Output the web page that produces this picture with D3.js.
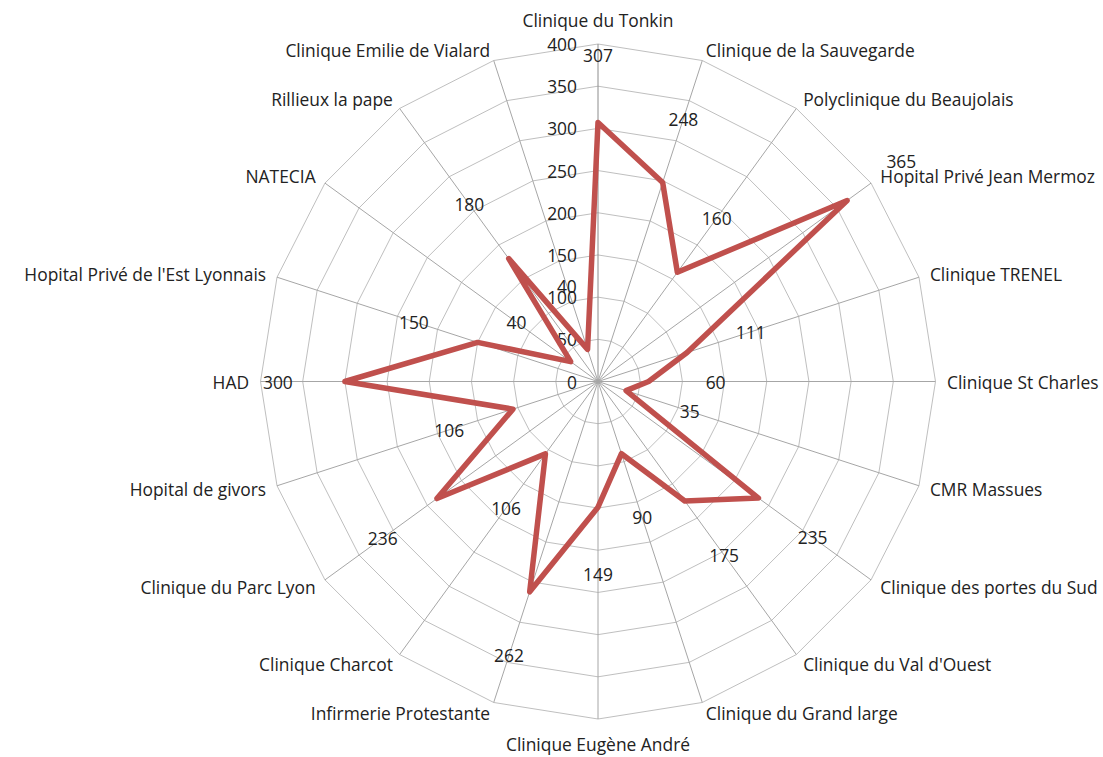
<!DOCTYPE html>
<html>
<head>
<meta charset="utf-8">
<script src="https://cdn.jsdelivr.net/npm/d3@7"></script>
<style>
  body { margin: 0; background: #fff; }
  svg text { font-family: "Open Sans", Lato, sans-serif; font-size: 17.4px; fill: #222; }
</style>
</head>
<body>
<div id="chart"></div>
<script>
// categories clockwise from the top
var categories = [
  "Clinique du Tonkin", "Clinique de la Sauvegarde", "Polyclinique du Beaujolais",
  "Hopital Privé Jean Mermoz", "Clinique TRENEL", "Clinique St Charles", "CMR Massues",
  "Clinique des portes du Sud", "Clinique du Val d'Ouest", "Clinique du Grand large",
  "Clinique Eugène André", "Infirmerie Protestante", "Clinique Charcot",
  "Clinique du Parc Lyon", "Hopital de givors", "HAD", "Hopital Privé de l'Est Lyonnais",
  "NATECIA", "Rillieux la pape", "Clinique Emilie de Vialard"
];
var values = [307, 248, 160, 365, 111, 60, 35, 235, 175, 90, 149, 262, 106, 236, 106, 300, 150, 40, 180, 40];
var ticks = [0, 50, 100, 150, 200, 250, 300, 350, 400];

var width = 1103, height = 757;
var cx = 598, cy = 381.5, R = 337.5;

var svg = d3.select("#chart").append("svg")
  .attr("width", width)
  .attr("height", height);

var r = d3.scaleLinear().domain([0, 400]).range([0, R]);
var angle = d3.scaleBand().domain(categories).range([0, 2 * Math.PI]).align(0).paddingInner(0).paddingOuter(0);

function pt(cat, rad) {
  var a = angle(cat);
  return [cx + rad * Math.sin(a), cy - rad * Math.cos(a)];
}

var g = svg.append("g");

// rings
g.selectAll("polygon.ring")
  .data(ticks.slice(1))
  .enter().append("polygon")
  .attr("class", "ring")
  .attr("points", function (t) {
    return categories.map(function (c) { return pt(c, r(t)).join(","); }).join(" ");
  })
  .attr("fill", "none")
  .attr("stroke", "#bfbfbf")
  .attr("stroke-width", 1);

// spokes
g.selectAll("line.spoke")
  .data(categories)
  .enter().append("line")
  .attr("class", "spoke")
  .attr("x1", cx).attr("y1", cy)
  .attr("x2", function (c) { return pt(c, R)[0]; })
  .attr("y2", function (c) { return pt(c, R)[1]; })
  .attr("stroke", function (c, i) { return i == 0 ? "#8c8c8c" : "#a6a6a6"; })
  .attr("stroke-width", 1);

// value axis labels
g.selectAll("text.tick")
  .data(ticks)
  .enter().append("text")
  .attr("class", "tick")
  .attr("x", cx - 21)
  .attr("y", function (t) { return cy - r(t); })
  .attr("text-anchor", "end")
  .attr("dominant-baseline", "central")
  .text(function (t) { return t; });

// category labels
g.selectAll("text.cat")
  .data(categories)
  .enter().append("text")
  .attr("class", "cat")
  .attr("x", function (c) { return pt(c, R + 11.5)[0]; })
  .attr("y", function (c) {
    var a = angle(c);
    var extra = Math.abs(Math.sin(a)) < 0.01 ? 13 : 0;
    return pt(c, R + 11.5)[1] - Math.cos(a) * extra;
  })
  .attr("text-anchor", function (c) {
    var s = Math.sin(angle(c));
    return s > 0.01 ? "start" : (s < -0.01 ? "end" : "middle");
  })
  .attr("dominant-baseline", "central")
  .text(function (c) { return c; });

// series line
var line = d3.lineRadial()
  .angle(function (d, i) { return angle(categories[i]); })
  .radius(function (d) { return r(d); })
  .curve(d3.curveLinearClosed);

g.append("path")
  .datum(values)
  .attr("transform", "translate(" + cx + "," + cy + ")")
  .attr("d", line)
  .attr("fill", "none")
  .attr("stroke", "#c0504d")
  .attr("stroke-width", 5.5)
  .attr("stroke-linejoin", "round");

// data labels, pushed out along each spoke
g.selectAll("text.val")
  .data(values)
  .enter().append("text")
  .attr("class", "val")
  .attr("x", function (d, i) { return pt(categories[i], r(d) + 67)[0]; })
  .attr("y", function (d, i) { return pt(categories[i], r(d) + 67)[1]; })
  .attr("text-anchor", "middle")
  .attr("dominant-baseline", "central")
  .text(function (d) { return d; });
</script>
</body>
</html>
